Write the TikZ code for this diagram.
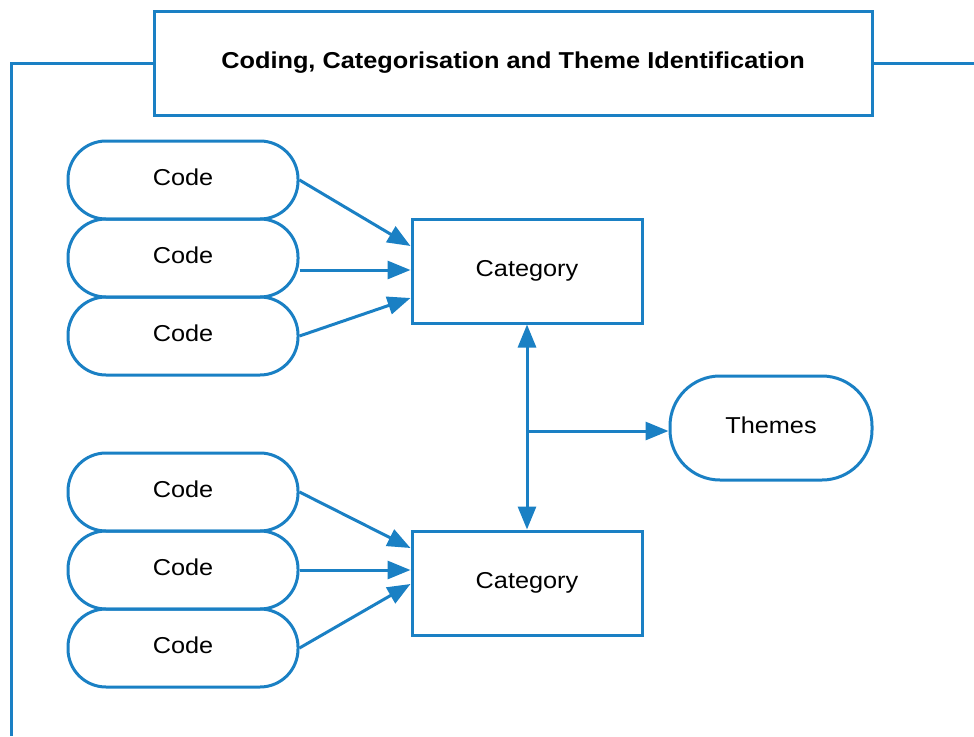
\documentclass[tikz,border=0pt]{standalone}
\usepackage{fontspec}
\setmainfont{Liberation Sans}[FakeStretch=1.1]
\usetikzlibrary{arrows.meta}
\definecolor{lblue}{HTML}{1A80C4}
\tikzset{
  ln/.style={draw=lblue, line width=3pt},
  txt/.style={text height=17pt, text depth=6.5pt, inner sep=0pt},
  codebox/.style={ln, txt, rounded corners=38pt, minimum width=230pt, minimum height=78pt, font=\fontsize{23}{27}\selectfont},
  catbox/.style={ln, txt, rectangle, minimum width=230pt, minimum height=104pt, font=\fontsize{23}{27}\selectfont},
  themebox/.style={ln, txt, rounded corners=50pt, minimum width=202pt, minimum height=104pt, font=\fontsize{23}{27}\selectfont},
  titlebox/.style={ln, txt, rectangle, minimum width=718pt, minimum height=104pt, font=\bfseries\fontsize{23}{27}\selectfont},
  tip/.tip={Triangle[length=23pt,width=18pt]},
  arr/.style={ln, -tip},
  darr/.style={ln, tip-tip}
}
\begin{document}
\begin{tikzpicture}[x=1pt,y=-1pt]
\useasboundingbox (0,0) rectangle (974,736);
\node[titlebox] (title) at (513,63) {Coding, Categorisation and Theme Identification};
\coordinate (tl) at (11,63);
\coordinate (bl) at (11,736);
\coordinate (tr) at (974,63);
\draw[ln] (title.west) -- (tl) -- (bl);
\draw[ln] (title.east) -- (tr);

\node[codebox] (c1) at (183,180) {Code};
\node[codebox] (c2) at (183,258) {Code};
\node[codebox] (c3) at (183,336) {Code};
\node[codebox] (c4) at (183,492) {Code};
\node[codebox] (c5) at (183,570) {Code};
\node[codebox] (c6) at (183,648) {Code};

\node[catbox] (cat1) at (527,271) {Category};
\node[catbox] (cat2) at (527,583) {Category};
\node[themebox] (th) at (771,428) {Themes};

\draw[arr] (c1.east) -- ([yshift=25pt]cat1.west);
\draw[arr] ([yshift=-12pt]c2.east) -- ([yshift=1pt]cat1.west);
\draw[arr] (c3.east) -- ([yshift=-27pt]cat1.west);

\draw[arr] (c4.east) -- ([yshift=35pt]cat2.west);
\draw[arr] (c5.east) -- ([yshift=13pt]cat2.west);
\draw[arr] (c6.east) -- ([yshift=-1pt]cat2.west);

\draw[darr] (cat1.south) -- (cat2.north);
\coordinate (j) at (527,431);
\draw[arr] (j) -- (th.west |- j);
\end{tikzpicture}
\end{document}
